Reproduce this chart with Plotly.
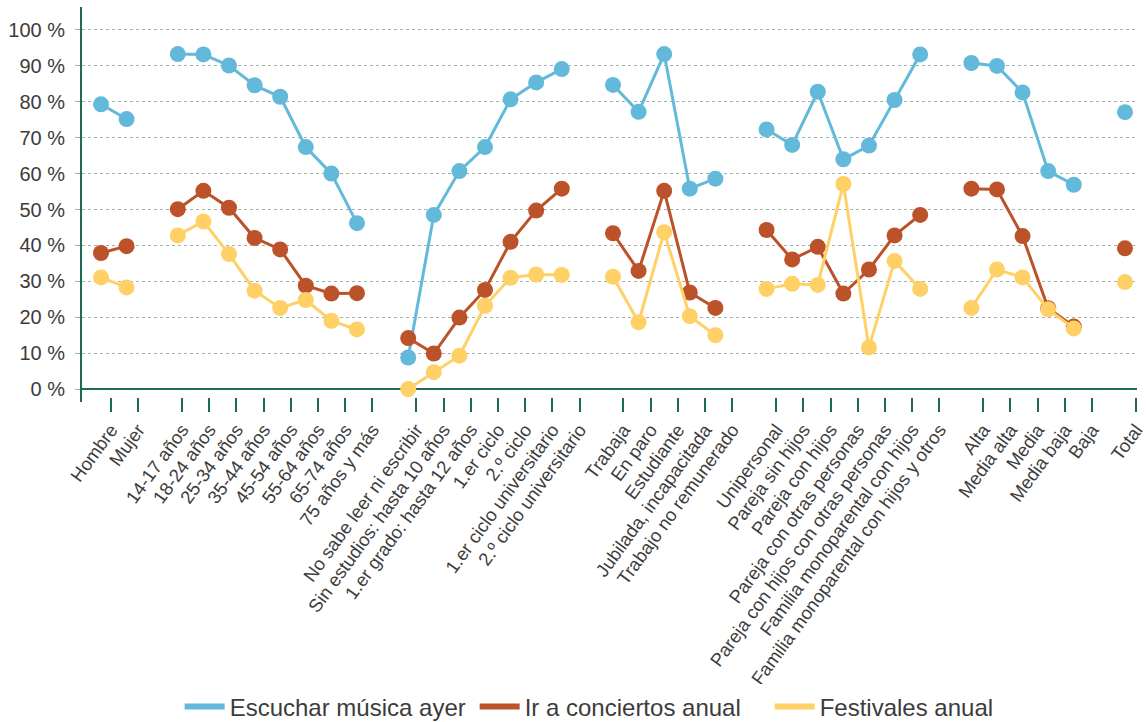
import plotly.graph_objects as go

# Categories, grouped by profile variable
categorias = [
    "Hombre", "Mujer",
    "14-17 años", "18-24 años", "25-34 años", "35-44 años", "45-54 años",
    "55-64 años", "65-74 años", "75 años y más",
    "No sabe leer ni escribir", "Sin estudios: hasta 10 años",
    "1.er grado: hasta 12 años", "1.er ciclo", "2.º ciclo",
    "1.er ciclo universitario", "2.º ciclo universitario",
    "Trabaja", "En paro", "Estudiante", "Jubilada, incapacitada",
    "Trabajo no remunerado",
    "Unipersonal", "Pareja sin hijos", "Pareja con hijos",
    "Pareja con otras personas", "Pareja con hijos con otras personas",
    "Familia monoparental con hijos", "Familia monoparental con hijos y otros",
    "Alta", "Media alta", "Media", "Media baja", "Baja",
    "Total",
]
tamanos_grupo = [2, 8, 7, 5, 7, 5, 1]

escuchar_musica = [
    79.3, 75.2,
    93.3, 93.2, 90.1, 84.6, 81.4, 67.4, 60.0, 46.2,
    8.8, 48.5, 60.7, 67.4, 80.7, 85.4, 89.1,
    84.7, 77.2, 93.3, 55.8, 58.6,
    72.3, 68.0, 82.8, 64.0, 67.8, 80.5, 93.2,
    90.8, 90.0, 82.6, 60.7, 56.9,
    77.1,
]
conciertos = [
    37.9, 39.8,
    50.1, 55.2, 50.5, 42.1, 38.9, 28.8, 26.6, 26.7,
    14.2, 9.9, 19.9, 27.6, 41.0, 49.7, 55.8,
    43.4, 32.9, 55.2, 26.9, 22.6,
    44.3, 36.1, 39.6, 26.6, 33.3, 42.8, 48.5,
    55.8, 55.6, 42.6, 22.5, 17.4,
    39.2,
]
festivales = [
    31.1, 28.3,
    42.8, 46.7, 37.6, 27.4, 22.6, 24.8, 19.0, 16.6,
    0.0, 4.7, 9.3, 23.2, 31.0, 31.9, 31.8,
    31.3, 18.6, 43.7, 20.3, 15.0,
    27.9, 29.3, 29.0, 57.1, 11.6, 35.7, 27.9,
    22.6, 33.3, 31.1, 22.2, 16.9,
    29.8,
]
y_ticks = list(range(0, 101, 10))
y_labels = [f"{v} %" for v in y_ticks]

series = [
    ("Escuchar música ayer", escuchar_musica, "#63b9da"),
    ("Ir a conciertos anual", conciertos, "#bc5229"),
    ("Festivales anual", festivales, "#fed066"),
]

# Point positions: one empty slot between groups
x_puntos = []
pos = 0
for g in tamanos_grupo:
    for _ in range(g):
        x_puntos.append(pos)
        pos += 1
    pos += 1

# Tick/label positions: slightly wider spacing than the points
paso_tick = 1.0625
paso_hueco = 1.715
x_ticks = []
t = 0.39
for g in tamanos_grupo:
    for i in range(g):
        x_ticks.append(t)
        if i < g - 1:
            t += paso_tick
    t += paso_hueco


def con_cortes(valores):
    """Insert None between groups so lines don't join across them."""
    xs, ys = [], []
    k = 0
    for g in tamanos_grupo:
        for _ in range(g):
            xs.append(x_puntos[k])
            ys.append(valores[k])
            k += 1
        xs.append(None)
        ys.append(None)
    return xs, ys


fig = go.Figure()
for nombre, valores, color in series:
    xs, ys = con_cortes(valores)
    fig.add_trace(go.Scatter(
        x=xs, y=ys, name=nombre, mode="lines+markers",
        connectgaps=False, showlegend=False,
        line=dict(color=color, width=3),
        marker=dict(color=color, size=16, line=dict(width=0)),
    ))

# Legend entries shown as plain thick lines
for nombre, _, color in series:
    fig.add_trace(go.Scatter(
        x=[None], y=[None], name=nombre, mode="lines",
        line=dict(color=color, width=6),
    ))

verde = "#1d6b53"
texto = "#3c3c3c"
fuente = "Liberation Sans, Arial, sans-serif"

fig.update_layout(
    width=1146, height=722,
    margin=dict(l=82, r=9, t=7, b=320, autoexpand=False),
    paper_bgcolor="white", plot_bgcolor="white",
    font=dict(family=fuente, color=texto),
    showlegend=True,
    legend=dict(
        orientation="h", x=0.512, xanchor="center", y=-0.772, yanchor="middle",
        font=dict(size=24, color=texto, family=fuente),
        traceorder="normal", entrywidth=240, itemwidth=40,
    ),
    xaxis=dict(
        range=[-0.742, 40.47], automargin=False,
        anchor="free", position=0.0134,
        showgrid=False, zeroline=False, showline=False,
        tickmode="array", tickvals=x_ticks, ticktext=categorias,
        tickangle=-54, ticks="outside", ticklen=14, tickwidth=1.5,
        tickcolor=verde, ticklabeloverflow="allow",
        tickfont=dict(size=18.5, color=texto),
    ),
    yaxis=dict(
        range=[-3.6, 106.4], automargin=False,
        tickmode="array", tickvals=y_ticks, ticktext=y_labels,
        tickfont=dict(size=20, color=texto),
        ticks="outside", ticklen=5, tickcolor="#9fb3ab", tickwidth=1,
        ticklabelstandoff=6,
        showline=True, linecolor=verde, linewidth=2,
        showgrid=True, gridcolor="#9fb3ab", griddash="dot", gridwidth=1,
        zeroline=True, zerolinecolor=verde, zerolinewidth=2,
    ),
)

fig.write_html("out.html")
